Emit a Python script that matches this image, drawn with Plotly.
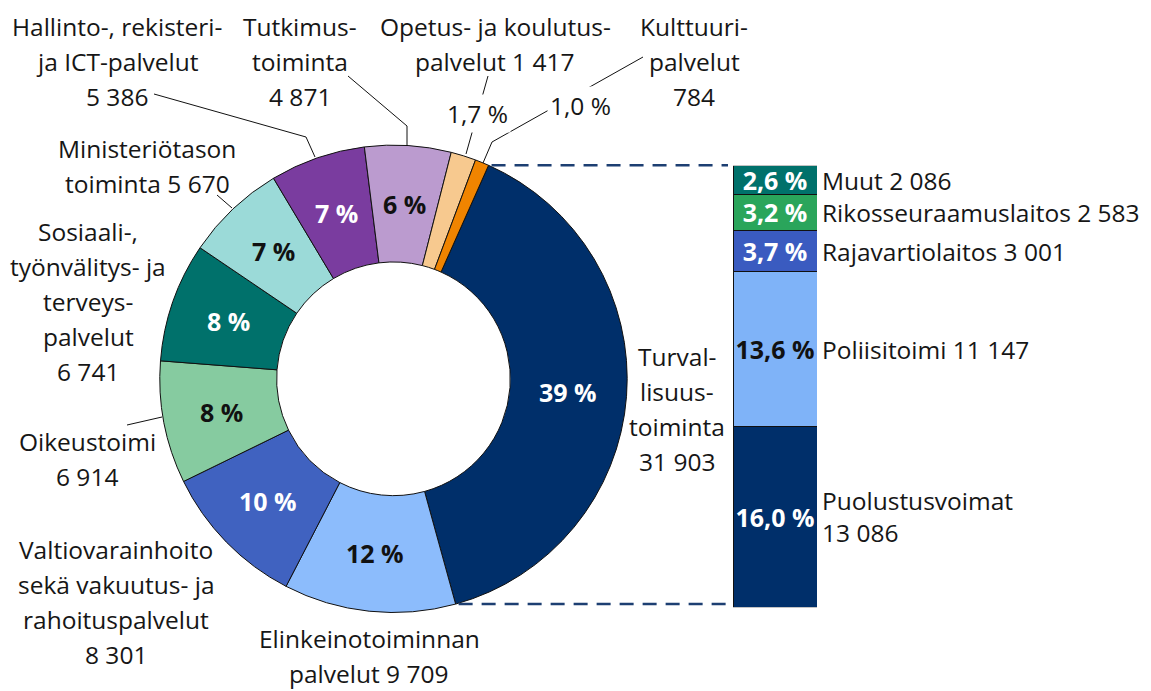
import math
import plotly.graph_objects as go

W, H = 1151, 691

# ---------------- data ----------------
pie_names = [
    "Turvallisuustoiminta",
    "Elinkeinotoiminnan palvelut",
    "Valtiovarainhoito sekä vakuutus- ja rahoituspalvelut",
    "Oikeustoimi",
    "Sosiaali-, työnvälitys- ja terveyspalvelut",
    "Ministeriötason toiminta",
    "Hallinto-, rekisteri- ja ICT-palvelut",
    "Tutkimustoiminta",
    "Opetus- ja koulutuspalvelut",
    "Kulttuuripalvelut",
]
pie_values = [31903, 9709, 8301, 6914, 6741, 5670, 5386, 4871, 1417, 784]

bar_names = ["Puolustusvoimat", "Poliisitoimi", "Rajavartiolaitos",
             "Rikosseuraamuslaitos", "Muut"]
bar_values = [13086, 11147, 3001, 2583, 2086]

# ---------------- style ----------------
pie_colors = ["#002f6a", "#8cbcfc", "#4062c0", "#86cba0", "#00716b",
              "#9bdad8", "#7a3c9f", "#bb9bcf", "#f7c98f", "#f08400"]
pie_text_colors = ["white", "#111111", "white", "#111111", "white",
                   "#111111", "white", "#111111", "#111111", "#111111"]
bar_colors = ["#002f6a", "#7fb3f8", "#3a5bc0", "#2aa55b", "#00716b"]
bar_text_colors = ["white", "#111111", "white", "white", "white"]
bar_label_sep = ["<br>", " ", " ", " ", " "]

FONT = "Open Sans"
FS = 24.5
FSB = 25
TXT = "#161616"
LS = 35  # line spacing px for outside labels

# pie geometry (px)
CX, CY, R = 393.5, 378.8, 233.7
HOLE = 0.5
ROT = 24

total = sum(pie_values)


def fmt_int(v):
    return f"{v:,}".replace(",", " ")


def pct_int(v):
    return f"{round(v / total * 100)} %"


def pct_dec(v):
    return f"{v / total * 100:.1f} %".replace(".", ",")


def px(x):
    return x / W


def py(y):
    return 1 - y / H


fig = go.Figure()

small = [v / total < 0.03 for v in pie_values]
fig.add_trace(go.Pie(
    labels=pie_names,
    values=pie_values,
    sort=False,
    direction="clockwise",
    rotation=ROT,
    hole=HOLE,
    marker=dict(colors=pie_colors, line=dict(color="#111111", width=1)),
    textinfo="none",
    domain=dict(x=[px(CX - R), px(CX + R)], y=[py(CY + R), py(CY - R)]),
    showlegend=False,
    hoverinfo="label+value+percent",
))

# percentage labels at the middle of the ring, on each slice's bisector
cum = 0
rmid = R * (1 + HOLE) / 2
for v, s, c in zip(pie_values, small, pie_text_colors):
    ang = math.radians(ROT + 360 * (cum + v / 2) / total)
    cum += v
    if s:
        continue
    fig.add_annotation(x=px(CX + rmid * math.sin(ang)), y=py(CY - rmid * math.cos(ang)),
                       xref="paper", yref="paper", text=f"<b>{pct_int(v)}</b>",
                       showarrow=False, xanchor="center", yanchor="middle",
                       font=dict(family=FONT, size=FSB, color=c))

# stacked bar of the largest slice
for i, (n, v) in enumerate(zip(bar_names, bar_values)):
    fig.add_trace(go.Bar(
        x=[0], y=[v], name=n, width=1,
        marker=dict(color=bar_colors[i], line=dict(color="#111111", width=1)),
        text=[pct_dec(v)], textposition="inside", insidetextanchor="middle",
        textangle=0, constraintext="none",
        textfont=dict(family=FONT, size=FSB, weight="bold", color=bar_text_colors[i]),
        showlegend=False,
    ))

BX0, BX1, BY0, BY1 = 733, 817, 165.7, 607.3
fig.update_layout(
    barmode="stack",
    width=W, height=H,
    margin=dict(l=0, r=0, t=0, b=0),
    paper_bgcolor="white", plot_bgcolor="rgba(0,0,0,0)",
    font=dict(family=FONT, size=FS, color=TXT),
    xaxis=dict(domain=[px(BX0), px(BX1)], range=[-0.5, 0.5], visible=False, fixedrange=True),
    yaxis=dict(domain=[py(BY1), py(BY0)], range=[0, sum(bar_values)], visible=False, fixedrange=True),
)

# bar labels to the right
cum = 0
for n, v, sep in zip(bar_names, bar_values, bar_label_sep):
    fig.add_annotation(x=0.5, y=cum + v / 2, xref="x", yref="y",
                       text=f"{n}{sep}{fmt_int(v)}", showarrow=False,
                       xanchor="left", yanchor="middle", align="left", xshift=3,
                       font=dict(family=FONT, size=FS, color=TXT))
    cum += v

# outside labels for the pie slices (text lines, center x, first-line y)
label_lines = [
    (["Turval-", "lisuus-", "toiminta", "{v}"], 677, 356),
    (["Elinkeinotoiminnan", "palvelut {v}"], 369, 638),
    (["Valtiovarainhoito", "sekä vakuutus- ja", "rahoituspalvelut", "{v}"], 116, 549),
    (["Oikeustoimi", "{v}"], 87, 442),
    (["Sosiaali-,", "työnvälitys- ja", "terveys-", "palvelut", "{v}"], 88, 231),
    (["Ministeriötason", "toiminta {v}"], 147, 149),
    (["Hallinto-, rekisteri-", "ja ICT-palvelut", "{v}"], 117, 27),
    (["Tutkimus-", "toiminta", "{v}"], 300, 27),
    (["Opetus- ja koulutus-", "palvelut {v}"], 495, 27),
    (["Kulttuuri-", "palvelut", "{v}"], 694, 27),
]
for (lines, xc, y0), v in zip(label_lines, pie_values):
    for k, t in enumerate(lines):
        fig.add_annotation(x=px(xc), y=py(y0 + k * LS), xref="paper", yref="paper",
                           text=t.replace("{v}", fmt_int(v)), showarrow=False,
                           xanchor="center", yanchor="middle", borderpad=0,
                           font=dict(family=FONT, size=FS, color=TXT))

# leader lines
leaders = [
    [(154, 94), (306, 137), (315, 157)],
    [(348, 76), (407, 126), (407, 145)],
    [(488, 76), (466, 154)],
    [(643, 57), (492, 142), (483, 163)],
    [(217, 195), (232, 208)],
    [(127, 425), (162, 417)],
]
for pts in leaders:
    for (x0, y0), (x1, y1) in zip(pts[:-1], pts[1:]):
        fig.add_shape(type="line", xref="paper", yref="paper",
                      x0=px(x0), y0=py(y0), x1=px(x1), y1=py(y1),
                      line=dict(color="#111111", width=1))

# small-slice percentage labels (on white, covering the leader line)
small_pos = [(477, 114), (580, 105)]
for (xc, yc), v in zip(small_pos, [v for v, s in zip(pie_values, small) if s]):
    fig.add_annotation(x=px(xc), y=py(yc), xref="paper", yref="paper",
                       text=pct_dec(v), showarrow=False, bgcolor="white", borderpad=2,
                       xanchor="center", yanchor="middle",
                       font=dict(family=FONT, size=FS, color=TXT))

# dashed connectors from the first slice edges to the bar
t0 = math.radians(ROT)
t1 = math.radians(ROT + 360 * pie_values[0] / total)
for t in (t0, t1):
    x0 = CX + R * math.sin(t)
    y0 = CY - R * math.cos(t)
    fig.add_shape(type="line", xref="paper", yref="paper",
                  x0=px(x0 + 3), y0=py(y0), x1=px(BX0 - 5), y1=py(y0),
                  line=dict(color="#1d3f72", width=2.5, dash="14px,9px"))

fig.write_html("out.html", config={"displayModeBar": False},
               post_script="document.body.style.margin='0';")
